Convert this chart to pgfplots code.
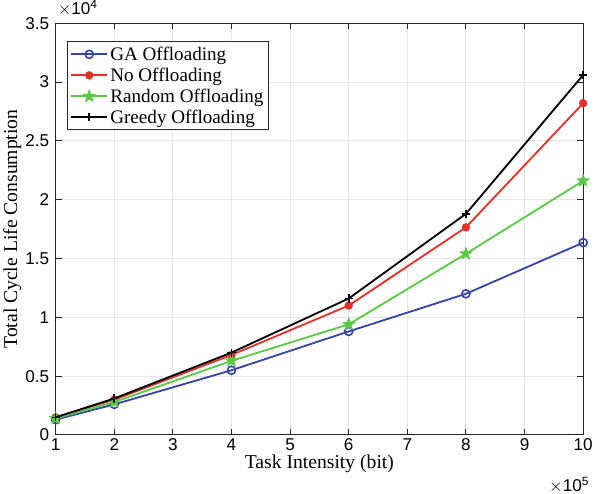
\documentclass[border=0pt]{standalone}
\usepackage{fontspec}
\setmainfont{Liberation Serif}
\newfontfamily\sans{Liberation Sans}
\usepackage{pgfplots}
\pgfplotsset{compat=1.18}
\usetikzlibrary{plotmarks}
\definecolor{mblue}{RGB}{52,68,170}
\definecolor{mred}{RGB}{230,48,40}
\definecolor{mgreen}{RGB}{92,200,72}
\definecolor{maxis}{RGB}{38,38,38}
% filled five-pointed star, like MATLAB's pentagram
\pgfdeclareplotmark{fstar}{%
  \pgfpathmoveto{\pgfqpointpolar{90}{1.3\pgfplotmarksize}}%
  \pgfpathlineto{\pgfqpointpolar{126}{0.55\pgfplotmarksize}}%
  \pgfpathlineto{\pgfqpointpolar{162}{1.3\pgfplotmarksize}}%
  \pgfpathlineto{\pgfqpointpolar{198}{0.55\pgfplotmarksize}}%
  \pgfpathlineto{\pgfqpointpolar{234}{1.3\pgfplotmarksize}}%
  \pgfpathlineto{\pgfqpointpolar{270}{0.55\pgfplotmarksize}}%
  \pgfpathlineto{\pgfqpointpolar{306}{1.3\pgfplotmarksize}}%
  \pgfpathlineto{\pgfqpointpolar{342}{0.55\pgfplotmarksize}}%
  \pgfpathlineto{\pgfqpointpolar{18}{1.3\pgfplotmarksize}}%
  \pgfpathlineto{\pgfqpointpolar{54}{0.55\pgfplotmarksize}}%
  \pgfpathclose\pgfusepathqfillstroke}
\begin{document}
\begin{tikzpicture}
\begin{axis}[
  scale only axis,
  width=524pt, height=409pt,
  xmin=1, xmax=10, ymin=0, ymax=3.5,
  clip mode=individual,
  xtick={1,2,...,10},
  ytick={0,0.5,1,1.5,2,2.5,3,3.5},
  yticklabels={0,0.5,1,1.5,2,2.5,3,3.5},
  grid=major,
  major grid style={line width=1pt, gray!20},
  axis line style={maxis, line width=0.9pt},
  tick style={maxis, line width=0.9pt},
  tick align=inside, tick pos=both,
  major tick length=6pt,
  ticklabel style={font=\sans\fontsize{17}{17}\selectfont, text=black},
  yticklabel style={xshift=-3pt},
  /pgf/number format/assume math mode=true,
  xlabel={Task Intensity (bit)},
  ylabel={Total Cycle Life Consumption},
  label style={font=\fontsize{19.5}{19.5}\selectfont},
  xlabel style={yshift=3pt},
  ylabel style={yshift=-3pt},
  legend style={at={(0.021,0.956)}, anchor=north west,
    font=\fontsize{19}{25}\selectfont, draw=maxis, line width=0.9pt,
    inner sep=3pt, row sep=2pt},
  legend cell align=left,
  legend image code/.code={%
    \draw[mark repeat=2,mark phase=2] plot coordinates {(0pt,0pt) (18pt,0pt) (36pt,0pt)};},
  every axis plot/.append style={line width=1.8pt},
]
\addplot[mblue, mark=o, mark size=4pt, mark options={line width=1.6pt}] coordinates {
(1,0.13) (2,0.26) (4,0.55) (6,0.88) (8,1.20) (10,1.635)};
\addlegendentry{GA Offloading}
\addplot[mred, mark=*, mark size=3.2pt] coordinates {
(1,0.15) (2,0.30) (4,0.68) (6,1.10) (8,1.765) (10,2.82)};
\addlegendentry{No Offloading}
\addplot[mgreen, mark=fstar, mark size=5pt, mark options={line width=0.5pt}] coordinates {
(1,0.14) (2,0.28) (4,0.63) (6,0.94) (8,1.54) (10,2.16)};
\addlegendentry{Random Offloading}
\addplot[black, mark=+, mark size=4pt, mark options={line width=1.6pt}] coordinates {
(1,0.15) (2,0.31) (4,0.70) (6,1.16) (8,1.88) (10,3.06)};
\addlegendentry{Greedy Offloading}
\node[anchor=south west, font=\sans\fontsize{17}{17}\selectfont, inner sep=0pt] at ([xshift=2pt,yshift=7pt]rel axis cs:0,1) {$\times$10\textsuperscript{4}};
\node[anchor=south east, font=\sans\fontsize{17}{17}\selectfont, inner sep=0pt] at ([xshift=6pt,yshift=-58pt]rel axis cs:1,0) {$\times$10\textsuperscript{5}};
\end{axis}
\end{tikzpicture}
\end{document}
